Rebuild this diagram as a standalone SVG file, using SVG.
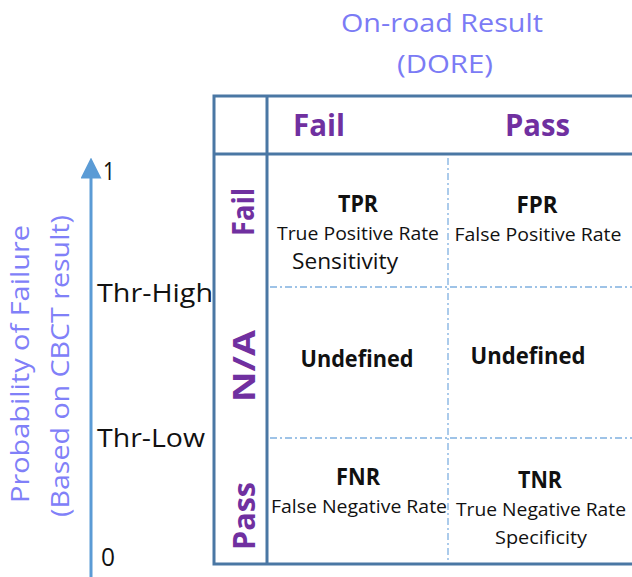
<svg xmlns="http://www.w3.org/2000/svg" width="632" height="577" viewBox="0 0 632 577">
  <style>
    text { font-family: "Open Sans", "Liberation Sans", Arial, sans-serif; }
    .title { font-size: 25px; fill: #7b7bf5; }
    .axis { font-size: 25px; fill: #8080f8; }
    .tick { font-size: 25px; fill: #111; }
    .head { font-size: 31px; font-weight: bold; fill: #7030a0; }
    .abbr { font-size: 23px; font-weight: bold; fill: #111; text-anchor: middle; }
    .desc { font-size: 19px; fill: #111; text-anchor: middle; }
    .desc2 { font-size: 22px; fill: #111; text-anchor: middle; }
    .frame { stroke: #4a77a4; stroke-width: 3; fill: none; }
    .grid { stroke: #7fb0e0; stroke-width: 1.3; stroke-dasharray: 7 3 2 3; fill: none; }
  </style>
  <defs>
    <marker id="arrowHead" markerWidth="7" markerHeight="7" refX="3.5" refY="3.5" orient="auto" markerUnits="strokeWidth">
      <path d="M0,0 L7,3.5 L0,7 Z" fill="#5b9bd5"/>
    </marker>
  </defs>
  <rect width="632" height="577" fill="#ffffff"/>

  <!-- column heading -->
  <g id="title">
    <text class="title" x="442" y="32" text-anchor="middle" textLength="202" lengthAdjust="spacingAndGlyphs">On-road Result</text>
    <text class="title" x="445" y="73" text-anchor="middle" textLength="96" lengthAdjust="spacingAndGlyphs">(DORE)</text>
  </g>

  <!-- vertical axis -->
  <g id="axis">
    <line x1="91" y1="577" x2="91" y2="168" stroke="#5b9bd5" stroke-width="3" marker-end="url(#arrowHead)"/>
    <text class="axis" transform="translate(29,364) rotate(-90)" text-anchor="middle" textLength="278" lengthAdjust="spacingAndGlyphs">Probability of Failure</text>
    <text class="axis" transform="translate(69,366) rotate(-90)" text-anchor="middle" textLength="302" lengthAdjust="spacingAndGlyphs">(Based on CBCT result)</text>
    <text class="tick" x="103" y="180" textLength="12" lengthAdjust="spacingAndGlyphs">1</text>
    <text class="tick" x="97" y="302" textLength="116" lengthAdjust="spacingAndGlyphs">Thr-High</text>
    <text class="tick" x="97" y="447" textLength="108" lengthAdjust="spacingAndGlyphs">Thr-Low</text>
    <text class="tick" x="101" y="566" textLength="14" lengthAdjust="spacingAndGlyphs">0</text>
  </g>

  <!-- table frame and grid -->
  <g id="connectors">
    <path class="frame" d="M634,96 H214 V564 H634"/>
    <line class="frame" x1="267" y1="96" x2="267" y2="564"/>
    <line class="frame" x1="214" y1="154" x2="634" y2="154"/>
    <line class="grid" x1="448" y1="158" x2="448" y2="562"/>
    <line class="grid" x1="270" y1="287" x2="632" y2="287"/>
    <line class="grid" x1="270" y1="438" x2="632" y2="438"/>
  </g>

  <g id="col-fail"><text class="head" x="293" y="136" textLength="52" lengthAdjust="spacingAndGlyphs">Fail</text></g>
  <g id="col-pass"><text class="head" x="505" y="136" textLength="65" lengthAdjust="spacingAndGlyphs">Pass</text></g>

  <g id="row-fail"><text class="head" transform="translate(254,212) rotate(-90)" text-anchor="middle" textLength="48" lengthAdjust="spacingAndGlyphs">Fail</text></g>
  <g id="row-na"><text class="head" transform="translate(255,366) rotate(-90)" text-anchor="middle" textLength="72" lengthAdjust="spacingAndGlyphs">N/A</text></g>
  <g id="row-pass"><text class="head" transform="translate(255,516) rotate(-90)" text-anchor="middle" textLength="68" lengthAdjust="spacingAndGlyphs">Pass</text></g>

  <g id="cell-tpr">
    <text class="abbr" x="358" y="212" textLength="40" lengthAdjust="spacingAndGlyphs">TPR</text>
    <text class="desc" x="358" y="240" textLength="162" lengthAdjust="spacingAndGlyphs">True Positive Rate</text>
    <text class="desc2" x="345" y="269" textLength="106" lengthAdjust="spacingAndGlyphs">Sensitivity</text>
  </g>
  <g id="cell-fpr">
    <text class="abbr" x="537" y="213" textLength="41" lengthAdjust="spacingAndGlyphs">FPR</text>
    <text class="desc" x="538" y="241" textLength="167" lengthAdjust="spacingAndGlyphs">False Positive Rate</text>
  </g>
  <g id="cell-undef-left">
    <text class="abbr" x="357" y="367" textLength="113" lengthAdjust="spacingAndGlyphs">Undefined</text>
  </g>
  <g id="cell-undef-right">
    <text class="abbr" x="528" y="364" textLength="115" lengthAdjust="spacingAndGlyphs">Undefined</text>
  </g>
  <g id="cell-fnr">
    <text class="abbr" x="358" y="485" textLength="44" lengthAdjust="spacingAndGlyphs">FNR</text>
    <text class="desc" x="359" y="513" textLength="176" lengthAdjust="spacingAndGlyphs">False Negative Rate</text>
    </g>
  <g id="cell-tnr">
    <text class="abbr" x="540" y="488" textLength="44" lengthAdjust="spacingAndGlyphs">TNR</text>
    <text class="desc" x="541" y="516" textLength="170" lengthAdjust="spacingAndGlyphs">True Negative Rate</text>
    <text class="desc" x="541" y="544" textLength="92" lengthAdjust="spacingAndGlyphs">Specificity</text>
  </g>
</svg>
